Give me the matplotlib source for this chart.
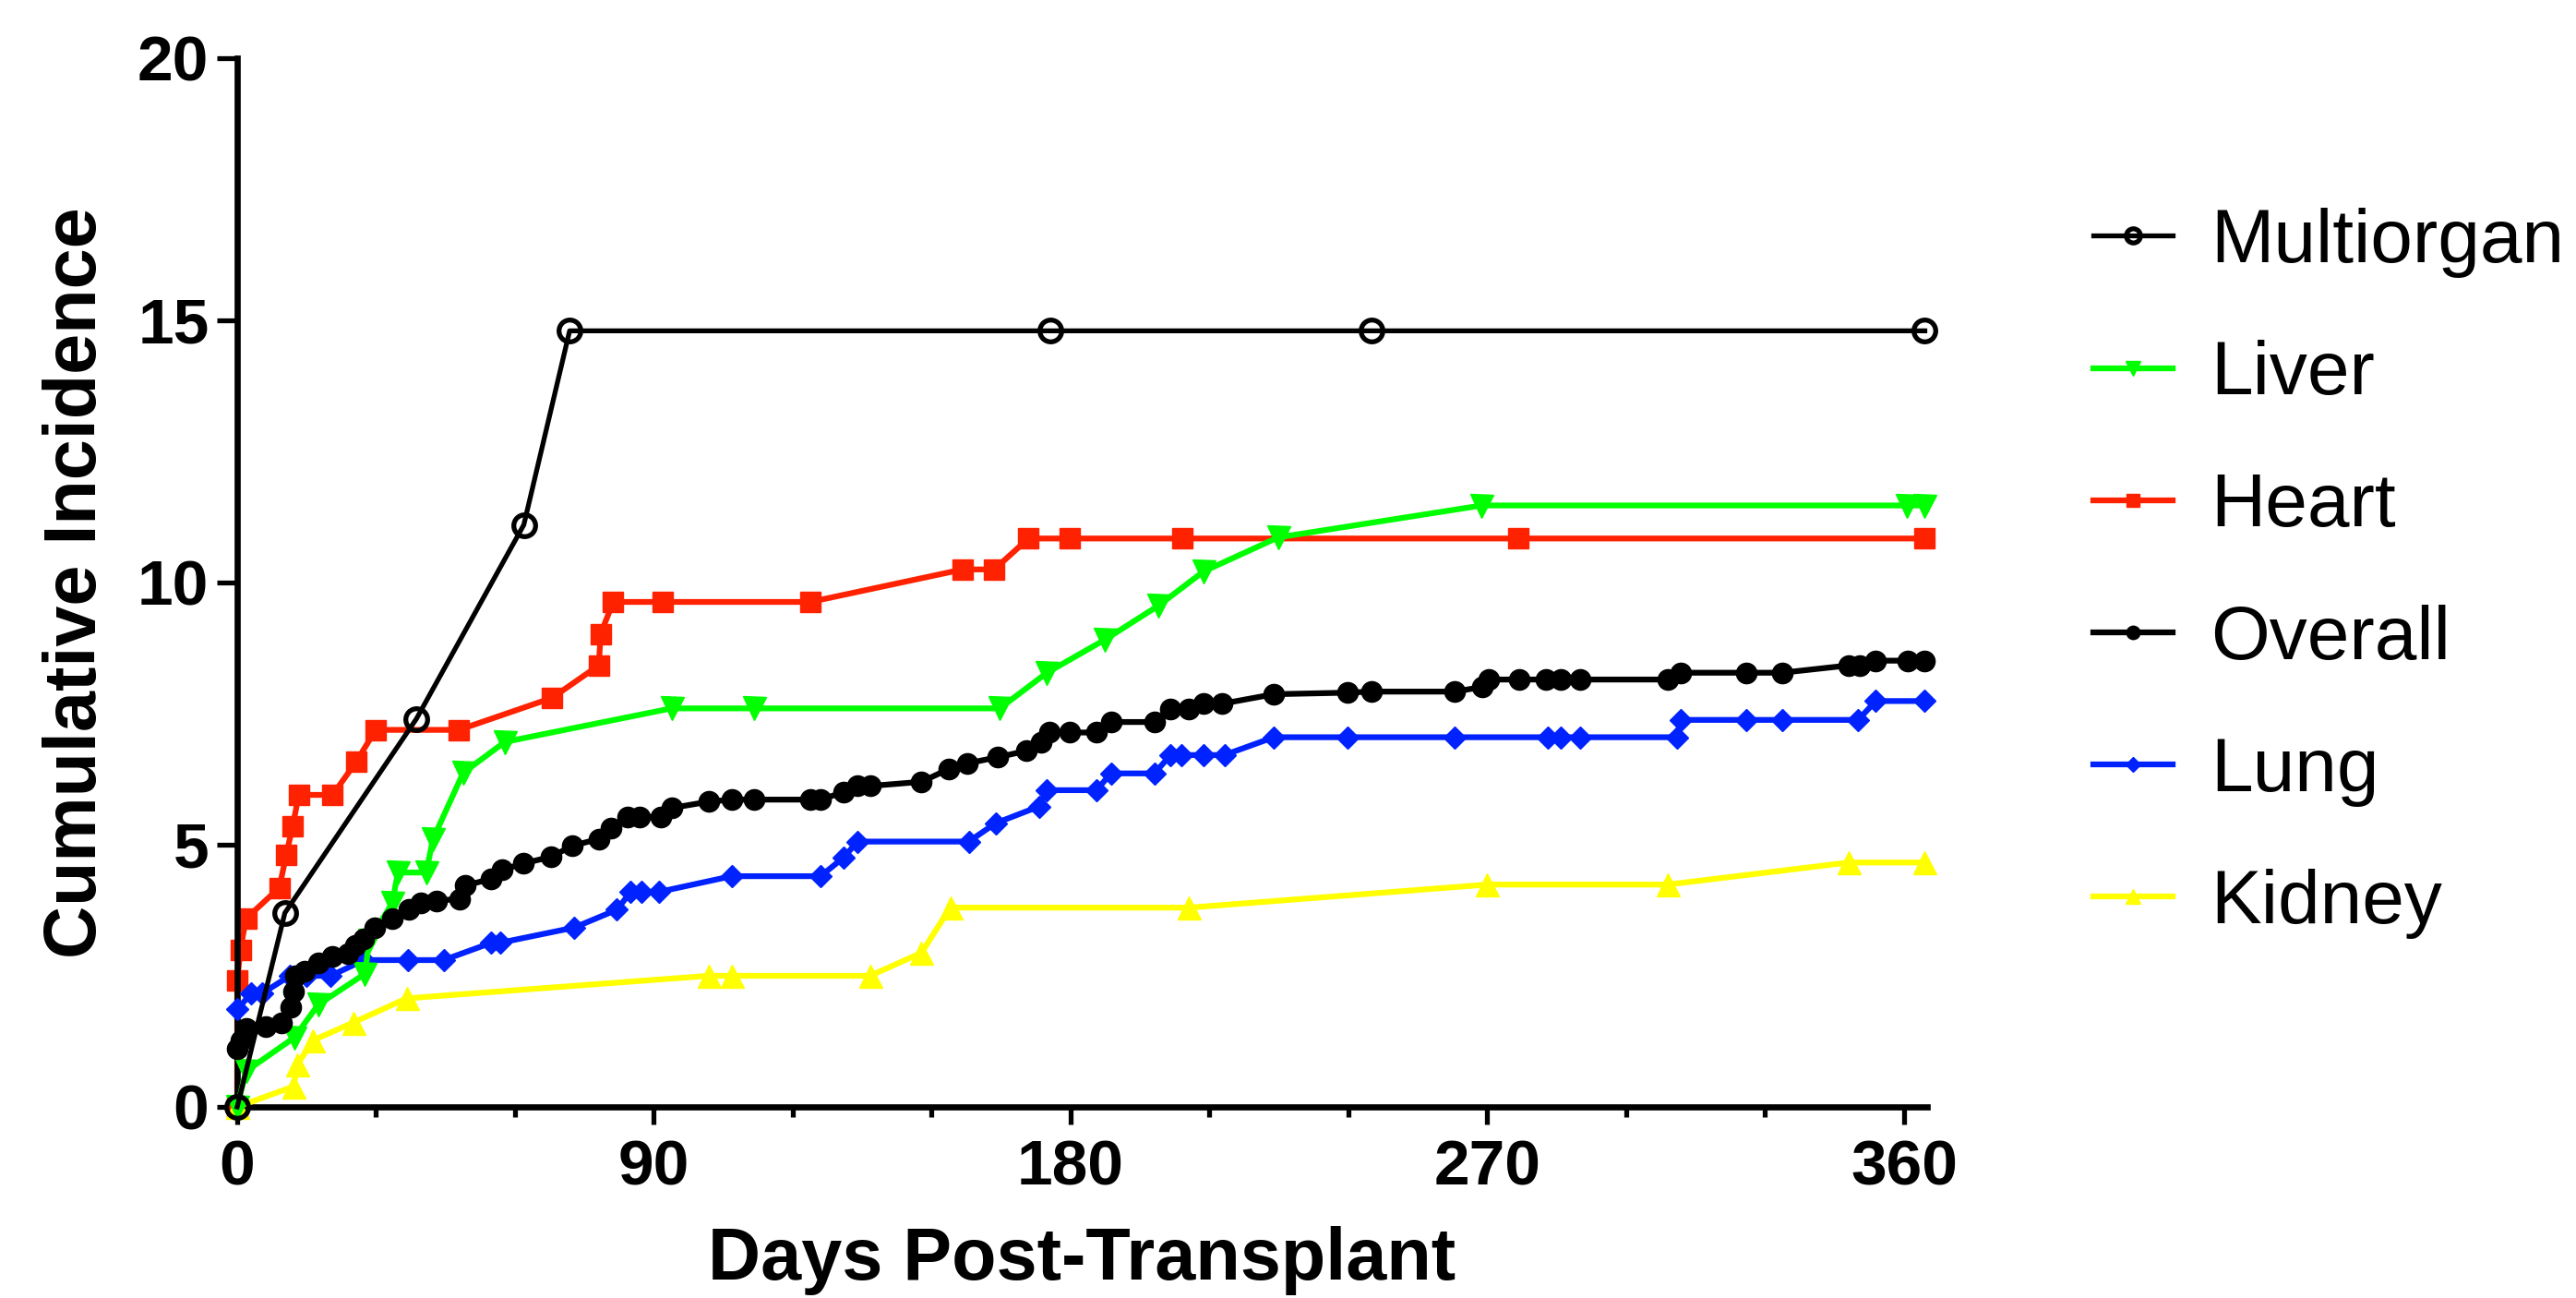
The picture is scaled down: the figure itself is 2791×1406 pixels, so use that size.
import matplotlib
matplotlib.use("Agg")
import matplotlib.pyplot as plt
from matplotlib.ticker import MultipleLocator

plt.rcParams['font.family'] = ['Liberation Sans', 'DejaVu Sans']

# ---------------- data ----------------
series_names = ["Multiorgan", "Liver", "Heart", "Overall", "Lung", "Kidney"]

multi_x = [0, 10.3, 38.7, 61.9, 71.8, 175.7, 244.9, 364.5]
multi_y = [0, 3.7, 7.4, 11.1, 14.8, 14.8, 14.8, 14.8]

liver_x = [0, 1.9, 12.3, 17.5, 27.6, 28.5, 33.5, 34.7, 40.8, 42.3, 48.8, 57.8, 93.8, 111.7,
           164.7, 174.9, 187.4, 199.0, 208.7, 224.8, 268.8, 360.6, 364.5]
liver_y = [0, 0.68, 1.32, 1.95, 2.54, 3.17, 3.89, 4.47, 4.47, 5.11, 6.37, 6.96, 7.6, 7.6,
           7.6, 8.28, 8.91, 9.56, 10.21, 10.86, 11.47, 11.47, 11.47]

heart_x = [0, 0, 0.7, 1.9, 9.1, 10.6, 12.0, 13.3, 20.6, 25.7, 29.9, 47.9, 68.0, 78.1, 78.5,
           81.2, 91.9, 123.8, 156.7, 163.5, 170.9, 179.8, 204.1, 276.7, 364.5]
heart_y = [0, 2.41, 3.0, 3.59, 4.18, 4.81, 5.36, 5.95, 5.95, 6.58, 7.19, 7.19, 7.80, 8.42, 9.02,
           9.63, 9.63, 9.63, 10.25, 10.25, 10.84, 10.84, 10.84, 10.84, 10.84]

overall_x = [0, 0.7, 1.9, 6.1, 9.5, 11.5, 12.2, 12.5, 14.5, 17.5, 20.6, 24, 25.5, 27.4, 29.7,
             33.5, 37, 39.6, 43.1, 48, 49.2, 54.9, 57.2, 61.7, 67.8, 72.4, 78.1, 80.8, 84.3,
             86.9, 91.5, 93.8, 101.8, 106.8, 111.7, 123.8, 126, 130.9, 134, 136.7, 147.8,
             153.6, 157.6, 164.3, 170.5, 173.6, 175.4, 179.8, 185.6, 188.7, 198.1, 201.6,
             205.6, 208.7, 212.8, 223.9, 239.9, 244.9, 263, 269, 270.3, 276.8, 282.7, 285.9,
             290.1, 309, 311.7, 325.9, 333.7, 348.1, 350.4, 353.9, 360.8, 364.5]
overall_y = [1.11, 1.27, 1.49, 1.53, 1.61, 1.91, 2.2, 2.5, 2.58, 2.75, 2.87, 2.92, 3.08, 3.21,
             3.42, 3.59, 3.76, 3.89, 3.93, 3.97, 4.22, 4.35, 4.52, 4.64, 4.77, 4.98, 5.11, 5.32,
             5.53, 5.53, 5.53, 5.70, 5.82, 5.86, 5.86, 5.86, 5.86, 6.0, 6.12, 6.12, 6.2, 6.44,
             6.55, 6.67, 6.79, 6.95, 7.14, 7.14, 7.14, 7.34, 7.34, 7.58, 7.58, 7.69, 7.69, 7.87,
             7.9, 7.92, 7.92, 8.01, 8.15, 8.15, 8.15, 8.15, 8.15, 8.15, 8.28, 8.28, 8.28, 8.42,
             8.42, 8.51, 8.51, 8.51]

lung_x = [0, 3.0, 5.3, 11.4, 15.0, 20.2, 27.4, 36.9, 44.6, 54.9, 56.8, 72.8, 82.0, 85.0, 87.3,
          91.1, 106.8, 126, 130.9, 134, 158, 163.8, 173.2, 174.9, 185.6, 188.7, 198.1, 201.6,
          203.9, 208.7, 213.2, 223.9, 239.9, 263, 283, 285.9, 290.1, 311, 311.7, 325.9, 333.7,
          350.1, 353.9, 364.5]
lung_y = [1.86, 2.16, 2.16, 2.5, 2.5, 2.5, 2.8, 2.8, 2.8, 3.13, 3.13, 3.42, 3.76, 4.1, 4.1,
          4.1, 4.4, 4.4, 4.75, 5.06, 5.06, 5.41, 5.73, 6.04, 6.04, 6.36, 6.36, 6.71, 6.71, 6.71,
          6.71, 7.05, 7.05, 7.05, 7.05, 7.05, 7.05, 7.05, 7.38, 7.38, 7.38, 7.38, 7.74, 7.74]

kidney_x = [0, 12.2, 13.0, 16.4, 25.1, 36.6, 101.8, 106.8, 136.7, 147.8, 154, 205.6, 270, 309,
            348, 364.5]
kidney_y = [0, 0.39, 0.81, 1.27, 1.61, 2.07, 2.5, 2.5, 2.5, 2.94, 3.8, 3.8, 4.24, 4.24, 4.66,
            4.66]

x_major_ticks = [0, 90, 180, 270, 360]
y_major_ticks = [0, 5, 10, 15, 20]

# ---------------- figure ----------------
W, H = 2791, 1406
fig = plt.figure(figsize=(W / 100, H / 100), dpi=100)
ax = fig.add_axes([257 / W, 1 - 1199 / H, (2088 - 257) / W, (1199 - 63) / H])

lw = 4.5
h_kid, = ax.plot(kidney_x, kidney_y, color='#FFFF00', lw=lw, marker='^', ms=18,
                 mec='#FFFF00', mfc='#FFFF00', zorder=3, clip_on=False)
h_lung, = ax.plot(lung_x, lung_y, color='#0022FF', lw=lw, marker='D', ms=12,
                  mec='#0022FF', mfc='#0022FF', zorder=4, clip_on=False)
h_heart, = ax.plot(heart_x, heart_y, color='#FF2200', lw=lw, marker='s', ms=16,
                   mec='#FF2200', mfc='#FF2200', zorder=2, clip_on=False)
h_liver, = ax.plot(liver_x, liver_y, color='#00FF00', lw=lw, marker='v', ms=18,
                   mec='#00FF00', mfc='#00FF00', zorder=5, clip_on=False)
h_over, = ax.plot(overall_x, overall_y, color='black', lw=lw, marker='o', ms=16,
                  mec='black', mfc='black', zorder=6, clip_on=False)
h_multi, = ax.plot(multi_x, multi_y, color='black', lw=3.8, marker='o', ms=17,
                   mec='black', mfc='none', mew=3.8, zorder=7, clip_on=False)

ax.set_xlim(0, 365)
ax.set_ylim(0, 20)
for s in ['top', 'right']:
    ax.spines[s].set_visible(False)
for s in ['left', 'bottom']:
    ax.spines[s].set_linewidth(4.8)

ax.set_xticks(x_major_ticks)
ax.set_yticks(y_major_ticks)
ax.xaxis.set_minor_locator(MultipleLocator(30))
ax.tick_params(axis='x', which='major', length=14, width=3.8, pad=11)
ax.tick_params(axis='x', which='minor', length=8, width=3.8)
ax.tick_params(axis='y', which='major', length=16, width=3.8, pad=6)
for lab in ax.get_xticklabels() + ax.get_yticklabels():
    lab.set_fontsize(50)
    lab.set_fontweight('bold')

ax.set_xlabel("Days Post-Transplant", fontsize=57, fontweight='bold', labelpad=22)
ax.set_ylabel("Cumulative Incidence", fontsize=57, fontweight='bold', labelpad=20)

handles = [h_multi, h_liver, h_heart, h_over, h_lung, h_kid]
fig.legend(handles, series_names, loc='center left', bbox_to_anchor=(2268 / W, 1 - 621 / H),
           frameon=False, fontsize=59, handlelength=1.05, handletextpad=0.5,
           labelspacing=0.82, borderpad=0, borderaxespad=0, markerscale=0.65)

fig.savefig("out.png", dpi=100)
